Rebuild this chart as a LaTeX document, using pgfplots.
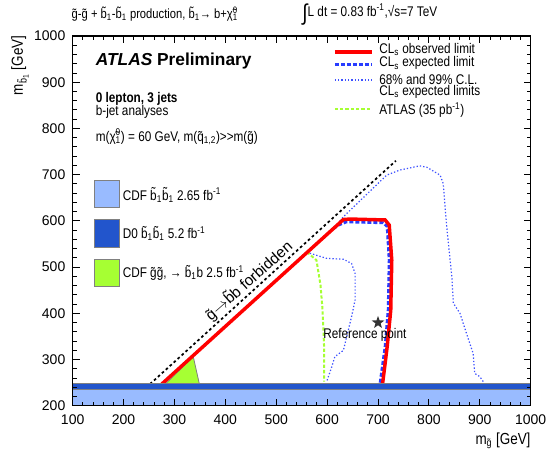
\documentclass[border=0pt]{standalone}
\usepackage{fontspec}
\setmainfont{Liberation Sans}
\newfontfamily\nar[FakeStretch=0.84]{Liberation Sans}
\usepackage{pgfplots}
\pgfplotsset{compat=1.18}

\definecolor{cdfblue}{RGB}{153,187,255}
\definecolor{dzblue}{RGB}{34,85,204}
\definecolor{limeg}{RGB}{166,255,51}
\definecolor{expblue}{RGB}{40,60,255}
\definecolor{dotblue}{RGB}{60,80,255}

% filled five-pointed star
\pgfdeclareplotmark{fstar}{%
  \pgfpathmoveto{\pgfpointpolar{90}{\pgfplotmarksize}}%
  \pgfpathlineto{\pgfpointpolar{126}{0.4\pgfplotmarksize}}%
  \pgfpathlineto{\pgfpointpolar{162}{\pgfplotmarksize}}%
  \pgfpathlineto{\pgfpointpolar{198}{0.4\pgfplotmarksize}}%
  \pgfpathlineto{\pgfpointpolar{234}{\pgfplotmarksize}}%
  \pgfpathlineto{\pgfpointpolar{270}{0.4\pgfplotmarksize}}%
  \pgfpathlineto{\pgfpointpolar{306}{\pgfplotmarksize}}%
  \pgfpathlineto{\pgfpointpolar{342}{0.4\pgfplotmarksize}}%
  \pgfpathlineto{\pgfpointpolar{18}{\pgfplotmarksize}}%
  \pgfpathlineto{\pgfpointpolar{54}{0.4\pgfplotmarksize}}%
  \pgfpathclose\pgfusepathqfill}

\newcommand\txt{\nar\fontsize{10.5}{12}\selectfont}

\begin{document}
\begin{tikzpicture}
\useasboundingbox (-54.5pt,-35.5pt) rectangle (355.7pt,304.3pt);
\begin{axis}[scale only axis,width=343.5pt,height=277.3pt,at={(0,0)},anchor=south west,
  xmin=100,xmax=1000,ymin=200,ymax=1000,
  xtick={100,200,...,1000},ytick={200,300,...,1000},minor tick num=4,
  tick align=inside,major tick length=5.25pt,minor tick length=3pt,
  tick style={black,line width=0.7pt},axis line style={line width=1pt},
  axis on top,clip=false,
  tick label style={font=\fontsize{10.5}{12}\selectfont},
  /pgf/number format/assume math mode=true,
  /pgf/number format/set thousands separator={},
  xticklabel style={yshift=-3.5pt},yticklabel style={xshift=-2pt}]

% CDF gluino-pair exclusion
\addplot[fill=limeg,draw=gray,line width=0.6pt] coordinates {(282,247) (337,306) (349,247)} -- cycle;
% kinematic limit
\addplot[black,line width=1.3pt,dash pattern=on 2pt off 2pt] coordinates {(252,247) (735,730)};
% 99% band
\addplot[dotblue,line width=0.9pt,dash pattern=on 1pt off 1.5pt] coordinates {
 (625,600) (632,609) (717,699) (743,710) (782,719) (796,716) (822,699) (828,681)
 (835,587) (845,479) (848,422) (861,400) (874,356) (887,313) (890,270) (900,263) (907,252)};
% 68% band
\addplot[dotblue,line width=0.9pt,dash pattern=on 1pt off 1.5pt] coordinates {
 (566,530) (599,519) (632,517) (648,508) (655,486) (655,429) (648,393) (632,320)
 (615,306) (609,284) (599,252)};
% ATLAS 35 pb-1
\addplot[limeg,line width=1.5pt,dash pattern=on 2.5pt off 1.5pt] coordinates {
 (560,532) (563,530) (579,515) (587,461) (591,407) (594,328) (594,252)};
% expected
\addplot[expblue,line width=2.2pt,dash pattern=on 3pt off 1.5pt] coordinates {
 (612,583) (622,591) (638,598) (710,596) (718,588) (722,515) (720,407) (714,328) (704,248)};
% observed
\addplot[red,line width=2.6pt] coordinates {
 (275,247) (632,603) (645,604) (714,602) (722,591) (727,515) (725,407) (718,328) (709,248)};
% CDF and D0 sbottom bands
\addplot[fill=cdfblue,draw=gray,line width=0.6pt] coordinates {(100,200) (1000,200) (1000,236.5) (100,236.5)} -- cycle;
\addplot[fill=dzblue,draw=gray,line width=0.6pt] coordinates {(100,236.5) (1000,236.5) (1000,247.5) (100,247.5)} -- cycle;
% reference point
\addplot[only marks,mark=fstar,mark size=5pt,black!80] coordinates {(700,380)};

% legend, upper right
\addplot[red,line width=3pt] coordinates {(615,965) (688,965)};
\addplot[expblue,line width=2.2pt,dash pattern=on 3pt off 1.5pt] coordinates {(615,939) (688,939)};
\addplot[dotblue,line width=0.9pt,dash pattern=on 1pt off 1.5pt] coordinates {(615,905) (688,905)};
\addplot[limeg,line width=1.5pt,dash pattern=on 2.5pt off 1.5pt] coordinates {(615,842) (688,842)};
% legend, left boxes
\addplot[fill=cdfblue,draw=gray,line width=0.6pt] coordinates {(142.4,628.4) (191.6,628.4) (191.6,688.4) (142.4,688.4)} -- cycle;
\addplot[fill=dzblue,draw=gray,line width=0.6pt] coordinates {(142.4,542.7) (191.6,542.7) (191.6,603.3) (142.4,603.3)} -- cycle;
\addplot[fill=limeg,draw=gray,line width=0.6pt] coordinates {(142.4,457.5) (191.6,457.5) (191.6,517.4) (142.4,517.4)} -- cycle;

\node[anchor=west,inner sep=0pt] at (axis cs:702,971) {\txt CL\textsubscript{s} observed limit};
\node[anchor=west,inner sep=0pt] at (axis cs:702,941) {\txt CL\textsubscript{s} expected limit};
\node[anchor=west,inner sep=0pt] at (axis cs:702,906) {\txt 68\% and 99\% C.L.};
\node[anchor=west,inner sep=0pt] at (axis cs:702,880) {\txt CL\textsubscript{s} expected limits};
\node[anchor=west,inner sep=0pt] at (axis cs:702,840) {\txt ATLAS (35 pb\textsuperscript{-1})};

\node[anchor=west,inner sep=0pt] at (axis cs:198,656) {\txt CDF \~{b}\textsubscript{1}\~{b}\textsubscript{1} 2.65 fb\textsuperscript{-1}};
\node[anchor=west,inner sep=0pt] at (axis cs:198,573) {\txt D0 \~{b}\textsubscript{1}\~{b}\textsubscript{1} 5.2 fb\textsuperscript{-1}};
\node[anchor=west,inner sep=0pt] at (axis cs:198,488) {\txt CDF \~{g}\~{g}, → \~{b}\textsubscript{1}b 2.5 fb\textsuperscript{-1}};

\node[anchor=west,inner sep=0pt] at (axis cs:145,946) {\fontsize{13}{15}\selectfont\bfseries\itshape ATLAS\upshape\ Preliminary};
\node[anchor=west,inner sep=0pt] at (axis cs:145,864) {\txt\bfseries 0 lepton, 3 jets};
\node[anchor=west,inner sep=0pt] at (axis cs:145,836) {\txt b-jet analyses};
\node[anchor=west,inner sep=0pt] at (axis cs:145,782) {\txt m(\~{χ}\rlap{\textsuperscript{0}}\textsubscript{1}) = 60 GeV, m(\~{q}\textsubscript{1,2})>>m(\~{g})};

\node[anchor=base,inner sep=0pt,rotate=41.5] at (axis cs:453,462) {\fontsize{11.5}{13}\selectfont \~{g}$\rightarrow$\~{b}b forbidden};
\node[anchor=west,inner sep=0pt] at (axis cs:592,353) {\txt Reference point};

\node[anchor=west,inner sep=0pt] at (axis cs:97.6,1048) {\nar\fontsize{10}{12}\selectfont \~{g}-\~{g} + \~{b}\textsubscript{1}-\~{b}\textsubscript{1} production, \~{b}\textsubscript{1}→ b+\~{χ}\rlap{\textsuperscript{0}}\textsubscript{1}};
\node[anchor=west,inner sep=0pt] at (axis cs:551,1047) {\txt\raisebox{-0.3em}{\fontsize{17}{17}\selectfont ∫}L dt = 0.83 fb\textsuperscript{-1},√s=7 TeV};

\node[anchor=base east,inner sep=0pt,rotate=90] at (axis cs:2,1001) {\txt\fontsize{12}{14}\selectfont m\textsubscript{\~{b}\textsubscript{1}} [GeV]};
\node[anchor=base east,inner sep=0pt] at (axis cs:1000,117) {\txt\fontsize{12}{14}\selectfont m\textsubscript{\~{g}} [GeV]};
\end{axis}
\end{tikzpicture}
\end{document}
